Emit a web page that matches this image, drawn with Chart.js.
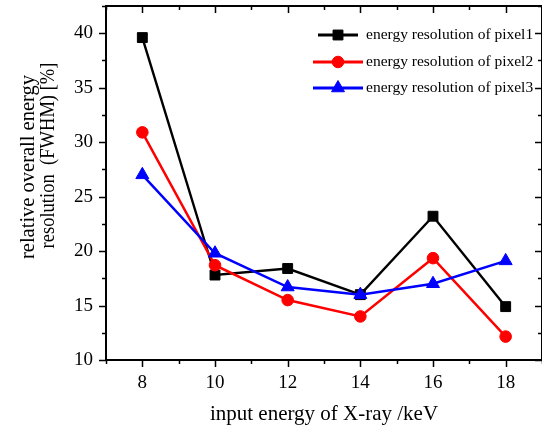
<!DOCTYPE html>
<html><head><meta charset="utf-8">
<script src="https://cdn.jsdelivr.net/npm/chart.js@4"></script>
<style>html,body{margin:0;padding:0;background:#fff}</style>
</head><body>
<canvas id="c" width="542" height="429"></canvas>
<script>
const energies = [8, 10, 12, 14, 16, 18];
const pixel1 = [39.6, 17.8, 18.4, 16.0, 23.2, 14.9];
const pixel2 = [30.9, 18.7, 15.5, 14.0, 19.35, 12.15];
const pixel3 = [27.0, 19.8, 16.7, 16.0, 17.0, 19.1];
const seriesLabels = ['energy resolution of pixel1', 'energy resolution of pixel2', 'energy resolution of pixel3'];
const xTitle = 'input energy of X-ray /keV';
const yTitleLines = ['relative overall energy', 'resolution  (FWHM) [%]'];
const xMajorTicks = [8, 10, 12, 14, 16, 18];
const yMajorTicks = [10, 15, 20, 25, 30, 35, 40];

const FONT = "'Liberation Serif', 'Times New Roman', serif";
const styles = [
  {color: '#000000', pointStyle: 'rect', radius: 7, lineWidth: 2.4, order: 3},
  {color: '#ff0000', pointStyle: 'circle', radius: 5.8, lineWidth: 2.5, order: 2},
  {color: '#0000ff', pointStyle: 'triangle', radius: 7.5, lineWidth: 2.5, order: 1}
];
const seriesData = [pixel1, pixel2, pixel3];

const datasets = seriesData.map((arr, i) => ({
  label: seriesLabels[i],
  data: energies.map((e, j) => ({x: e, y: arr[j]})),
  borderColor: styles[i].color,
  backgroundColor: styles[i].color,
  borderWidth: styles[i].lineWidth,
  pointStyle: styles[i].pointStyle,
  pointRadius: styles[i].radius,
  pointHoverRadius: styles[i].radius,
  pointBorderWidth: 1,
  pointBackgroundColor: styles[i].color,
  pointBorderColor: styles[i].color,
  tension: 0,
  order: styles[i].order,
  clip: false
}));

function rotatedLine(ctx, text, cx, cy, maxLen) {
  ctx.save();
  ctx.translate(cx, cy);
  ctx.rotate(-Math.PI / 2);
  const w = ctx.measureText(text).width;
  if (w > maxLen) ctx.scale(maxLen / w, 1);
  ctx.fillText(text, 0, 0);
  ctx.restore();
}

const decor = {
  id: 'decor',
  afterDraw(chart) {
    const ctx = chart.ctx, ca = chart.chartArea;
    const xs = chart.scales.x, ys = chart.scales.y;
    ctx.save();
    ctx.strokeStyle = '#000';
    ctx.lineWidth = 2;
    ctx.strokeRect(ca.left, ca.top, ca.right - ca.left, ca.bottom - ca.top);
    ctx.lineWidth = 1.5;
    for (let v = xs.min; v <= xs.max; v += 1) {
      const px = Math.round(xs.getPixelForValue(v)) + 0.5;
      const major = xMajorTicks.includes(v);
      const len = major ? 7 : 4;
      ctx.beginPath();
      ctx.moveTo(px, ca.bottom); ctx.lineTo(px, ca.bottom + len);
      ctx.moveTo(px, ca.top); ctx.lineTo(px, ca.top + len);
      ctx.stroke();
    }
    for (let v = ys.min; v <= ys.max + 1e-9; v += 2.5) {
      const py = Math.round(ys.getPixelForValue(v)) + 0.5;
      const major = yMajorTicks.includes(v);
      const len = major ? 7 : 4;
      ctx.beginPath();
      ctx.moveTo(ca.left, py); ctx.lineTo(ca.left - len, py);
      ctx.moveTo(ca.right, py); ctx.lineTo(ca.right - len, py);
      ctx.stroke();
    }
    ctx.fillStyle = '#000';
    ctx.font = '21px ' + FONT;
    ctx.textAlign = 'center';
    ctx.textBaseline = 'middle';
    ctx.fillText(xTitle, (ca.left + ca.right) / 2, 414);
    ctx.font = '20.5px ' + FONT;
    rotatedLine(ctx, yTitleLines[0], 29, 167, 186);
    rotatedLine(ctx, yTitleLines[1], 48.5, 155.5, 186);
    const rowsY = [35, 62, 88];
    const lineSpans = [[318, 358], [313, 363], [313, 363]];
    ctx.font = '15.5px ' + FONT;
    ctx.textAlign = 'left';
    chart.data.datasets.forEach((ds, i) => {
      const y = rowsY[i];
      ctx.strokeStyle = styles[i].color;
      ctx.fillStyle = styles[i].color;
      ctx.lineWidth = styles[i].lineWidth + 0.5;
      ctx.beginPath();
      ctx.moveTo(lineSpans[i][0], y); ctx.lineTo(lineSpans[i][1], y);
      ctx.stroke();
      ctx.lineWidth = 1;
      Chart.helpers.drawPoint(ctx, {pointStyle: styles[i].pointStyle, radius: styles[i].radius, rotation: 0, borderWidth: 1}, 338, y);
      ctx.fillStyle = '#000';
      ctx.fillText(ds.label, 366, y);
    });
    ctx.restore();
  }
};

function zeroPad(s) { s.paddingTop = 0; s.paddingBottom = 0; s.paddingLeft = 0; s.paddingRight = 0; }

new Chart(document.getElementById('c'), {
  type: 'line',
  data: {datasets},
  options: {
    responsive: false,
    animation: false,
    devicePixelRatio: 1,
    layout: {autoPadding: false, padding: {top: 6, right: -1, left: 0, bottom: 0}},
    plugins: {legend: {display: false}, tooltip: {enabled: false}, title: {display: false}},
    scales: {
      x: {
        type: 'linear', position: 'bottom', min: 7, max: 19,
        grid: {display: false, drawTicks: false},
        border: {display: false},
        ticks: {
          stepSize: 1, autoSkip: false, maxRotation: 0, color: '#000', padding: 12,
          font: {family: FONT, size: 19},
          callback: v => xMajorTicks.includes(v) ? String(v) : ''
        },
        afterFit: s => { s.height = 69; zeroPad(s); }
      },
      y: {
        type: 'linear', position: 'left', min: 10, max: 42.5,
        grid: {display: false, drawTicks: false},
        border: {display: false},
        ticks: {
          stepSize: 2.5, autoSkip: false, color: '#000', padding: 13,
          font: {family: FONT, size: 19},
          callback: v => yMajorTicks.includes(v) ? String(v) : ''
        },
        afterFit: s => { s.width = 106; zeroPad(s); }
      }
    }
  },
  plugins: [decor]
});
</script>
</body></html>
